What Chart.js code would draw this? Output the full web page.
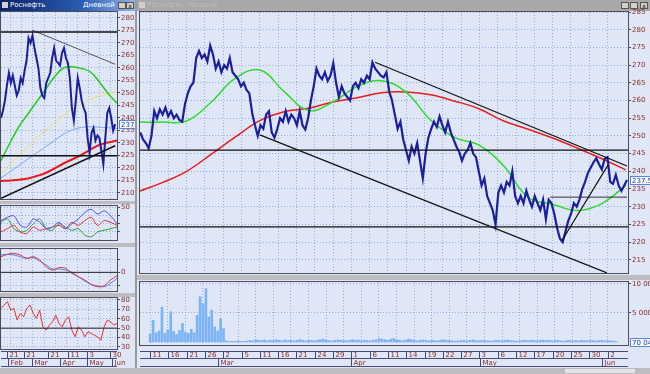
<!DOCTYPE html>
<html>
<head>
<meta charset="utf-8">
<title>Роснефть</title>
<script src="https://cdn.jsdelivr.net/npm/chart.js"></script>
<style>
  body { margin:0; width:650px; height:374px; background:#9a9a9a; position:relative; overflow:hidden; font-family:"DejaVu Sans", sans-serif; }
  .win { position:absolute; background:#dfe6f6; }
  .title { position:absolute; top:0; height:11px; font-size:7px; line-height:11px; white-space:nowrap; overflow:hidden; }
  .btn { position:absolute; top:2px; width:8px; height:7px; background:#d4d0c8; border:1px solid #555; box-sizing:border-box; font-size:6px; line-height:5px; text-align:center; color:#000; }
  .frame { position:absolute; border:1px solid #4d4d5a; box-sizing:border-box; }
  .band { position:absolute; background:#bcbcc2; }
  canvas { position:absolute; }
</style>
</head>
<body>
<div class="win" style="left:0;top:0;width:135px;height:374px"></div>
<div class="win" style="left:137px;top:0;width:513px;height:374px"></div>

<div class="title" style="left:0;width:135px;background:linear-gradient(90deg,#0a246a,#2c5cb0 60%,#8fb3e8);color:#fff">
  <span style="position:absolute;left:2px;top:2px;width:6px;height:6px;background:#d4d0c8"></span>
  <span style="position:absolute;left:10px">Роснефть</span>
  <span style="position:absolute;left:83px">Дневной</span>
</div>
<div class="btn" style="left:118px"></div><div class="btn" style="left:126px">x</div>
<div class="title" style="left:137px;width:513px;background:#a8a8a8;color:#bdbdbd">
  <span style="position:absolute;left:2px;top:2px;width:6px;height:6px;background:#d0d0d0"></span>
  <span style="position:absolute;left:10px">Роснефть, Часовой</span>
</div>
<div class="btn" style="left:621px"></div><div class="btn" style="left:630px"></div><div class="btn" style="left:640px">x</div>

<div class="band" style="left:0;top:201px;width:135px;height:3px"></div>
<div class="band" style="left:0;top:243px;width:135px;height:4px"></div>
<div class="band" style="left:0;top:293px;width:135px;height:4px"></div>
<div class="band" style="left:137px;top:275px;width:513px;height:5px"></div>
<div class="band" style="left:0;top:368px;width:650px;height:6px"></div>
<div class="band" style="left:565px;top:369px;width:70px;height:4px;background:#e4e4e4"></div>

<div class="frame" style="left:0;top:11px;width:118px;height:189px"></div>
<div class="frame" style="left:0;top:205px;width:118px;height:36px"></div>
<div class="frame" style="left:0;top:248px;width:118px;height:44px"></div>
<div class="frame" style="left:0;top:297px;width:118px;height:53px"></div>
<div class="frame" style="left:139px;top:11px;width:490px;height:263px"></div>
<div class="frame" style="left:139px;top:281px;width:490px;height:65px"></div>

<script>
// ---------- right window: hourly chart ----------
const dayTicks = [2, 5, 8, 11, 14, 17, 20, 23, 26, 29, 32, 35, 38, 41, 44, 47, 50, 53, 56, 59, 62, 65, 68, 71, 74, 77];
const dayLabels = ['11','16','21','26','2','5','11','16','21','24','29','1','6','11','14','19','22','27','3','6','12','17','20','25','30','2'];
const monthTicks = [13.2, 35, 56.1, 76.1];
const monthLabels = ['Mar', 'Apr', 'May', 'Jun'];
const priceTicks = [215, 220, 225, 230, 235, 240, 245, 250, 255, 260, 265, 270, 275, 280, 285];

const close = [
  251, 249, 248, 246.5, 250, 257, 255, 257.5, 256, 258,
  255.5, 257, 255, 256, 254.5, 254, 259, 262, 264, 265,
  272, 274, 272, 273, 271, 275.5, 273, 269, 271, 268,
  270, 269, 272, 268, 267, 266, 264, 265, 263, 262,
  256.5, 253, 250, 253, 252, 256, 257, 251, 249.5, 252,
  255, 254, 257, 254, 256, 255, 253, 257, 253, 251.8,
  255, 260, 264, 269, 267, 266, 268, 265.5, 267, 270.5,
  265, 261, 264, 262, 261, 260, 264, 265, 263.5, 266,
  265, 267, 266, 270.8, 269, 268, 267, 266.5, 268, 262.5,
  260, 256, 252, 254, 249, 246, 243, 247, 245, 248,
  243, 238, 245, 249.5, 252, 254, 252.5, 255.5, 253, 251,
  254, 251, 249, 247, 245.5, 243, 245, 246, 248, 245,
  244, 240, 236, 238, 233, 231, 229, 225, 234, 236,
  234, 237, 236, 240, 233, 231, 233, 231, 234.5, 232,
  230, 233, 231, 229, 232, 226.5, 232, 231, 228, 224,
  221, 220, 223, 226, 228, 231, 230, 232, 235, 237,
  239.5, 241, 242.5, 243.7, 242, 240.5, 243.5, 244, 237, 236.5,
  239, 236, 234.5, 236, 237.54
];
// moving averages, one value every 4 time units
const greenMA = [253.9, 253.9, 254.2, 259.5, 266.3, 268.6, 262.5, 257.2, 259.6, 264, 265.6,
                 262.3, 254.5, 249.5, 247.3, 241.5, 232.6, 230.7, 228.9, 230.8, 236];
const redMA = [234.2, 236.8, 240, 244.8, 249.7, 254.3, 256.8, 257.8, 259.6, 260.8, 262.2,
               262.4, 261.6, 259.8, 257.6, 254.2, 251.9, 249.4, 246.6, 243.6, 240.4];
// volume in millions, one bar every half unit
const volume = [
  1.4, 3.7, 1.6, 1.9, 6.0, 1.5, 2.1, 5.2, 1.8, 1.3, 2.0, 3.2, 1.7, 1.5, 2.2, 1.6, 4.6, 7.8, 6.6, 9.2,
  4.3, 5.5, 2.6, 1.9, 4.0, 2.3,
  0.2, 0.1, 0.15, 0.1, 0.2, 0.1, 0.1, 0.15, 0.3, 0.2,
  0.4, 0.3, 0.25, 0.35, 0.2, 0.3, 0.25, 0.4, 0.3, 0.2,
  0.35, 0.25, 0.3, 0.2, 0.3, 0.4, 0.3, 0.2, 0.25, 0.3,
  0.2, 0.3, 0.4, 0.5, 0.3, 0.25, 0.2, 0.3, 0.35, 0.3,
  0.25, 0.2, 0.3, 0.4, 0.3, 0.35, 0.2, 0.3, 0.25, 0.2,
  0.3, 0.4, 0.6, 0.5, 0.4, 0.3, 0.5, 0.6, 0.4, 0.3,
  0.2, 0.3, 0.5, 0.4, 0.3, 0.2, 0.3, 0.35, 0.3, 0.2,
  0.3, 0.25, 0.2, 0.3, 0.4, 0.3, 0.25, 0.2, 0.15, 0.2,
  0.25, 0.3, 0.2, 0.3, 0.35, 0.25, 0.2, 0.3, 0.25, 0.2,
  0.15, 0.2, 0.3, 0.25, 0.2, 0.3, 0.35, 0.25, 0.2, 0.15,
  0.2, 0.25, 0.3, 0.2, 0.3, 0.25, 0.2, 0.3, 0.35, 0.25,
  0.3, 0.2, 0.25, 0.3, 0.2, 0.15, 0.25, 0.3, 0.2, 0.25,
  0.2, 0.3, 0.25, 0.2, 0.3, 0.25, 0.2, 0.25, 0.3, 0.2,
  0.25, 0.2, 0.15, 0.07004
];
const volumeTicks = [5, 10];
const channelTop = [[38.9, 270.8], [80.2, 241.5]];
const channelBottom = [[20.0, 250.3], [76.9, 211.3]];
const supportLine = [[69.5, 220.3], [77.1, 241.8]];
const boxLine = [[67.6, 232.7], [80.2, 232.7]];
const levels = [246, 224.3];

// ---------- left window: daily chart ----------
const leftDayTicks = [4.9, 18.7, 38.2, 54.5, 70, 88.7];
const leftDayLabels = ['21', '21', '21', '11', '3', '30'];
const leftMonthTicks = [5.7, 25.2, 48, 70, 90.3];
const leftMonthLabels = ['Feb', 'Mar', 'Apr', 'May', 'Jun'];
const leftGrid = [8, 17, 26, 35, 44, 53, 62, 71, 80, 89];
const leftPriceTicks = [210, 215, 220, 225, 230, 235, 240, 245, 250, 255, 260, 265, 270, 275, 280];
const leftClose = [
  240, 243, 247, 253, 258, 254, 257, 253, 249, 251,
  256, 254, 259, 263, 272, 270, 273, 268, 264, 260,
  252, 249, 248, 254, 256, 258, 264, 268, 263, 262,
  261, 266, 268, 264, 262, 256, 244, 239, 247, 256,
  252, 247, 244, 242, 232, 226, 234, 236, 231, 233,
  232, 227, 221.5, 232, 242, 244, 240, 235, 237.54
];
const leftGreen = [222.9, 230, 236.5, 241.5, 246.5, 251.5, 256.5, 260, 260.5, 259.8, 258.5, 254.5, 249.8, 245.9];
const leftYellow = [217.7, 221.5, 225, 228.5, 232, 235, 238, 241, 243.5, 245.5, 247.5, 248.8, 249.8, 250.4];
const leftBlue = [216, 218.5, 221, 223.5, 226, 228.5, 231, 233.5, 235.3, 236.2, 236.5, 236.3, 236.1, 235.8];
const leftRed = [214.8, 215, 215.3, 215.8, 216.8, 218, 219.8, 221.8, 223.5, 225.2, 227.3, 229.2, 230.2, 231];
const leftLevels = [274.4, 224.9];
const leftTrendDown = [[25.2, 275.2], [92.8, 261.5]];
const leftTrendUp = [[0, 207.9], [92.8, 228.9]];

const oscBlue = [29.7, 34.7, 37.1, 22.3, 19.8, 32.2, 27.2, 17.3, 19.8, 27.2, 17.3, 24.8, 32.2, 42, 47, 39.6, 44.6, 37.1, 24.8];
const oscRed = [12.4, 17.3, 22.3, 12.4, 9.9, 19.8, 14.9, 17.3, 19.8, 22.3, 17.3, 27.2, 22.3, 29.7, 34.7, 22.3, 29.7, 27.2, 22.3];
const oscGreen = [27.2, 32.2, 17.3, 12.4, 14.9, 24.8, 32.2, 17.3, 14.9, 24.8, 19.8, 14.9, 17.3, 7.4, 5, 12.4, 14.9, 17.3, 19.8];
const macdRed = [4.7, 5.4, 5.7, 5.2, 4.2, 4.7, 3.7, 1.7, 0.7, 1.4, 1.2, -0.3, -1.3, -2.3, -3.6, -4.3, -4.0, -2.3, -1.0];
const macdBlue = [5.2, 5.4, 5.2, 4.7, 4.2, 4.4, 3.4, 2.2, 1.0, 1.0, 0.7, 0, -1.3, -2.6, -3.6, -4.1, -4.3, -3.3, -1.8];
const rsi = [71, 74.6, 78.2, 69.3, 71, 58.6, 65.7, 62.1, 71, 74.6, 65.7, 60.4, 69.3, 51.4, 47.9, 53.2, 56.8,
             63.9, 55, 51.4, 58.6, 62.1, 47.9, 40.7, 51.4, 47.9, 40.7, 46.1, 44.3, 42.5, 40.7, 37.1, 51.4,
             58.6, 56.8, 53.2, 55];

// ---------- drawing ----------
const GRID = 'rgba(105,135,215,0.6)';
const LBL = '#8b2b2b';
const FONT = { family: '"DejaVu Sans"', size: 7 };
const PAD = 6;

const lastBox = {
  id: 'lastBox',
  afterDraw(chart, args, o) {
    if (o.value === undefined) return;
    const { ctx, chartArea: a, scales: { y } } = chart;
    const py = Math.round(y.getPixelForValue(o.value));
    const txt = o.text || o.value.toFixed(2);
    ctx.save();
    ctx.font = '7px "DejaVu Sans"';
    const w = ctx.measureText(txt).width + 3;
    ctx.fillStyle = '#f4f8ff';
    ctx.fillRect(a.right + 2, py - 4, w, 9);
    ctx.strokeStyle = '#5b86d6';
    ctx.strokeRect(a.right + 2.5, py - 3.5, w, 8);
    ctx.fillStyle = '#2a3a9a';
    ctx.textBaseline = 'middle';
    ctx.fillText(txt, a.right + 4, py + 1);
    ctx.restore();
  }
};

const dateStrip = {
  id: 'dateStrip',
  afterDraw(chart, args, o) {
    if (!o.ticks) return;
    const { ctx, chartArea: a, scales: { x } } = chart;
    const mid = a.top + o.row;
    const px = v => Math.round(x.getPixelForValue(v)) + 0.5;
    ctx.save();
    ctx.strokeStyle = '#4a4a78';
    ctx.lineWidth = 1;
    ctx.beginPath();
    [a.top + 0.5, mid + 0.5, a.bottom - 0.5].forEach(y => { ctx.moveTo(a.left, y); ctx.lineTo(a.right, y); });
    o.ticks.forEach(v => { ctx.moveTo(px(v), a.top); ctx.lineTo(px(v), mid); });
    o.months.forEach(v => { ctx.moveTo(px(v), mid); ctx.lineTo(px(v), a.bottom); });
    ctx.stroke();
    ctx.font = '7px "DejaVu Sans"';
    ctx.fillStyle = LBL;
    ctx.textBaseline = 'middle';
    o.ticks.forEach((v, i) => ctx.fillText(o.labels[i], px(v) + 2, (a.top + mid) / 2 + 1));
    o.months.forEach((v, i) => ctx.fillText(o.mlabels[i], px(v) + 2, (mid + a.bottom) / 2 + 1));
    ctx.restore();
  }
};
Chart.register(lastBox, dateStrip);

function addCanvas(left, top, w, h) {
  const c = document.createElement('canvas');
  c.width = w; c.height = h;
  c.style.left = left + 'px';
  c.style.top = top + 'px';
  document.body.appendChild(c);
  return c;
}

function line(data, color, width, extra) {
  return Object.assign({ type: 'line', data, borderColor: color, borderWidth: width, pointRadius: 0, fill: false }, extra || {});
}
function seg(pts, color, width) {
  return line(pts.map(p => ({ x: p[0], y: p[1] })), color, width);
}
function spread(values, x0, x1) {
  const step = (x1 - x0) / (values.length - 1);
  return values.map((v, i) => ({ x: x0 + i * step, y: v }));
}

function pane(p) {
  const c = addCanvas(p.left, p.top - PAD, p.w + p.axisW, p.h + 2 * PAD);
  return new Chart(c, {
    type: 'line',
    data: { datasets: p.datasets },
    options: {
      responsive: false, animation: false, events: [],
      layout: { autoPadding: false, padding: { top: PAD, bottom: PAD, left: 0, right: 0 } },
      plugins: { legend: { display: false }, tooltip: { enabled: false }, lastBox: p.lastBox || {} },
      scales: {
        x: {
          type: 'linear', min: p.xMin, max: p.xMax,
          afterFit: s => { s.height = 0; },
          afterBuildTicks: s => { s.ticks = p.xGrid.map(v => ({ value: v })); },
          ticks: { display: false },
          grid: { color: GRID, drawTicks: false },
          border: { display: false, dash: [1, 2] }
        },
        y: {
          position: 'right', min: p.yMin, max: p.yMax,
          afterFit: s => { s.width = p.axisW; },
          afterBuildTicks: s => { s.ticks = p.yTicks.map(v => ({ value: v })); },
          ticks: { color: LBL, font: FONT, padding: 1, autoSkip: false, callback: p.yFmt || (v => v) },
          grid: { color: GRID, tickColor: '#4d4d5a', tickLength: 3 },
          border: { display: false, dash: [1, 2] }
        }
      }
    }
  });
}

// date strip; "spill" is room on the right so end labels are not cut
function strip(left, top, w, spill, xMin, xMax, ticks, labels, months, mlabels) {
  const c = addCanvas(left, top, w + spill, 16);
  return new Chart(c, {
    type: 'line',
    data: { datasets: [] },
    options: {
      responsive: false, animation: false, events: [],
      layout: { autoPadding: false, padding: { left: 0, top: 0, bottom: 0, right: spill } },
      plugins: { legend: { display: false }, tooltip: { enabled: false },
                 dateStrip: { ticks, labels, months, mlabels, row: 7 } },
      scales: { x: { type: 'linear', min: xMin, max: xMax, display: false }, y: { display: false } }
    }
  });
}

// right window
const RX0 = 0.36, RX1 = 80.36;
const priceStep = (80.2 - 0.4) / (close.length - 1);
pane({
  left: 140, top: 12, w: 488, h: 261, axisW: 22,
  xMin: RX0, xMax: RX1, xGrid: dayTicks,
  yMin: 211.27, yMax: 285, yTicks: priceTicks,
  lastBox: { value: close[close.length - 1] },
  datasets: [
    seg(channelTop, '#111', 1.2),
    seg(channelBottom, '#111', 1.2),
    seg(supportLine, '#111', 1.2),
    seg(boxLine, '#333', 1),
    ...levels.map(v => seg([[RX0, v], [RX1, v]], '#111', 1.2)),
    line(close.map((v, i) => ({ x: 0.4 + i * priceStep, y: v })), '#1b1f9e', 2.2),
    line(greenMA.map((v, i) => ({ x: i * 4, y: v })), '#2bdc2b', 1.5, { tension: 0.4 }),
    line(redMA.map((v, i) => ({ x: i * 4, y: v })), '#ea1c1c', 1.5, { tension: 0.4 })
  ]
});

const fmtVol = v => Math.round(v * 1e6).toString().replace(/\B(?=(\d{3})+(?!\d))/g, ' ');
pane({
  left: 140, top: 282, w: 488, h: 63, axisW: 22,
  xMin: RX0, xMax: RX1, xGrid: dayTicks,
  yMin: -0.52, yMax: 10.34, yTicks: volumeTicks, yFmt: fmtVol,
  lastBox: { value: volume[volume.length - 1], text: fmtVol(volume[volume.length - 1]) },
  datasets: [{
    type: 'bar', data: volume.map((v, i) => ({ x: 0.5 * (i + 1), y: v })),
    backgroundColor: '#7cb3f4', barThickness: 2, borderWidth: 0
  }]
});
strip(140, 351, 488, 20, RX0, RX1, dayTicks, dayLabels, monthTicks, monthLabels);

// left window
const LX1 = 94.3;
pane({
  left: 1, top: 12, w: 116, h: 187, axisW: 18,
  xMin: 0, xMax: LX1, xGrid: leftGrid,
  yMin: 207.6, yMax: 282.4, yTicks: leftPriceTicks,
  lastBox: { value: leftClose[leftClose.length - 1] },
  datasets: [
    ...leftLevels.map(v => seg([[0, v], [LX1, v]], '#111', 1.5)),
    seg(leftTrendDown, '#555', 1),
    seg(leftTrendUp, '#111', 1.5),
    line(leftClose.map((v, i) => ({ x: i * 1.6, y: v })), '#1b1f9e', 2),
    line(spread(leftGreen, 0, LX1), '#22cc22', 1.5, { tension: 0.4 }),
    line(spread(leftYellow, 0, LX1), '#f0e060', 1, { tension: 0.4 }),
    line(spread(leftBlue, 0, LX1), '#74a7ee', 1, { tension: 0.4 }),
    line(spread(leftRed, 0, LX1), '#e81a1a', 2, { tension: 0.4 })
  ]
});
pane({
  left: 1, top: 206, w: 116, h: 34, axisW: 18,
  xMin: 0, xMax: LX1, xGrid: leftGrid,
  yMin: 0, yMax: 52, yTicks: [12.5, 25, 37.5, 50], yFmt: v => (v === 50 ? '50' : ''),
  datasets: [
    line(spread(oscBlue, 0, LX1), '#4f4ff0', 1, { tension: 0.3 }),
    line(spread(oscRed, 0, LX1), '#e03030', 1, { tension: 0.3 }),
    line(spread(oscGreen, 0, LX1), '#2f9f3a', 1, { tension: 0.3 })
  ]
});
pane({
  left: 1, top: 249, w: 116, h: 42, axisW: 18,
  xMin: 0, xMax: LX1, xGrid: leftGrid,
  yMin: -5.6, yMax: 7.0, yTicks: [-4, 0, 4], yFmt: v => (v === 0 ? '0' : ''),
  datasets: [
    seg([[0, 0], [LX1, 0]], '#222', 1),
    line(spread(macdRed, 0, LX1), '#e83030', 1, { tension: 0.4 }),
    line(spread(macdBlue, 0, LX1), '#4a7ff0', 1, { tension: 0.4 })
  ]
});
pane({
  left: 1, top: 298, w: 116, h: 51, axisW: 18,
  xMin: 0, xMax: LX1, xGrid: leftGrid,
  yMin: 27.8, yMax: 82.1, yTicks: [30, 40, 50, 60, 70, 80],
  datasets: [
    seg([[0, 50], [LX1, 50]], '#222', 1),
    line(spread(rsi, 0, LX1), '#e83030', 1)
  ]
});
strip(1, 351, 116, 18, 0, LX1, leftDayTicks, leftDayLabels, leftMonthTicks, leftMonthLabels);
</script>
</body>
</html>
